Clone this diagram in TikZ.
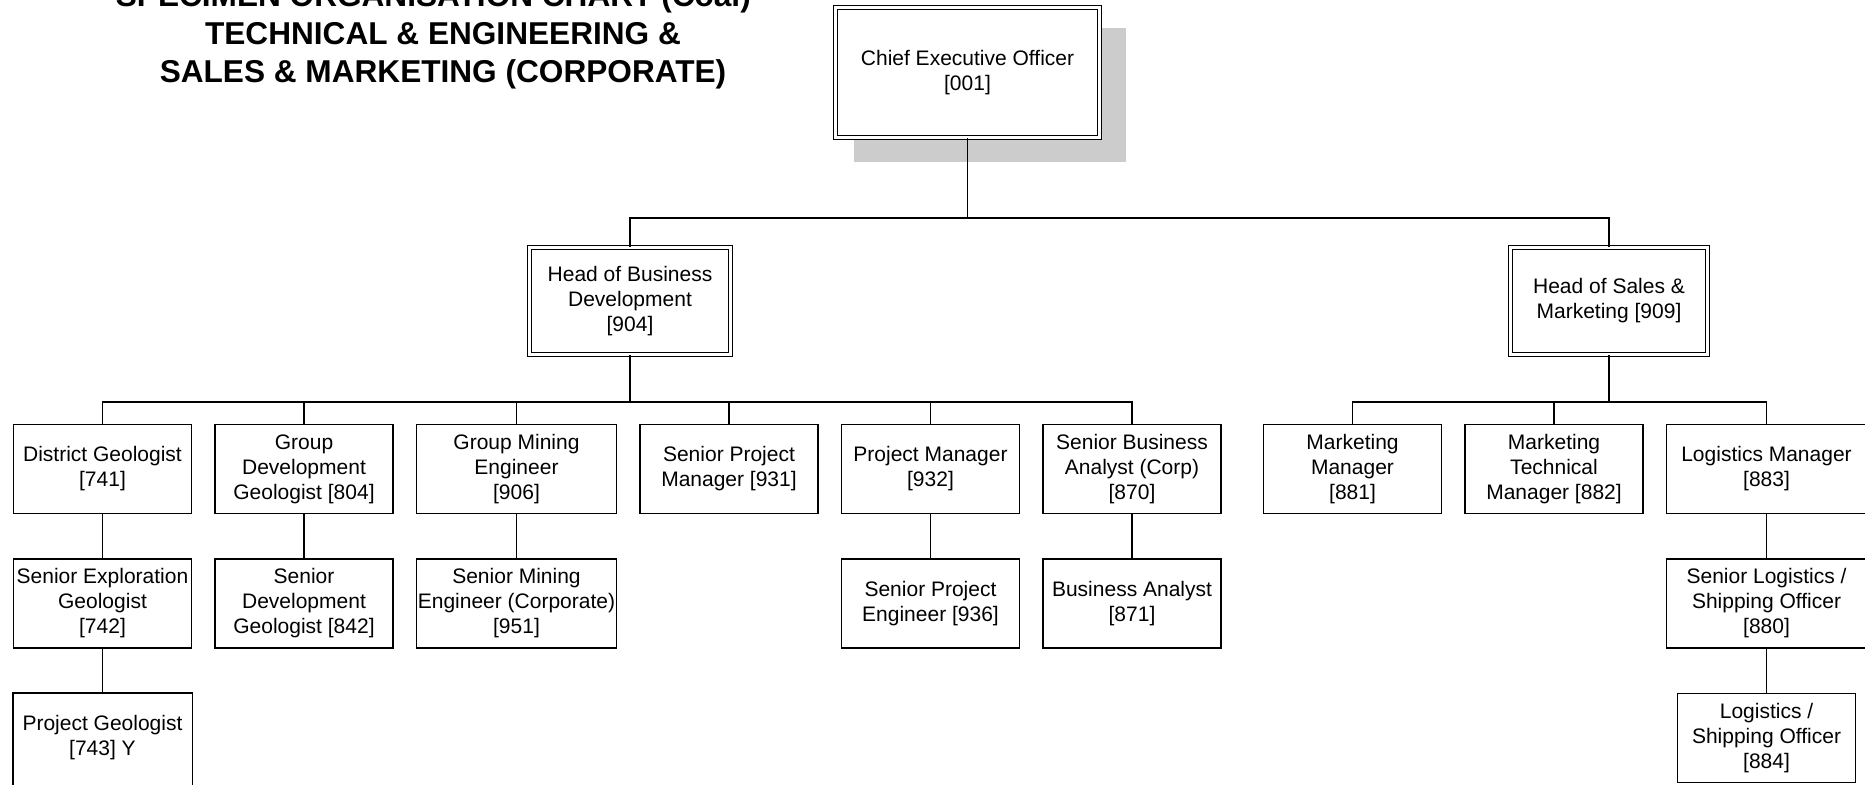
\documentclass[tikz,border=0pt]{standalone}
\usepackage{fontspec}
\setmainfont{Liberation Sans}
\usetikzlibrary{positioning,shadows}

\begin{document}
\begin{tikzpicture}[
x=1pt, y=-1pt,
node distance=44pt and 22pt,
font=\fontsize{21}{25}\selectfont,
post/.style={draw, line width=1.5pt, align=center, inner sep=1pt, minimum width=178pt, minimum height=89pt},
widepost/.style={post, minimum width=200pt},
head/.style={post, double, double distance=2.3pt, fill=white},
link/.style={line width=1.5pt}
]
\useasboundingbox (0,0) rectangle (1865,784);
\node[font=\bfseries\fontsize{31.6}{38}\selectfont, align=center] (title) at (443,36) {SPECIMEN ORGANISATION CHART (Coal) -\\ TECHNICAL \& ENGINEERING \&\\ SALES \& MARKETING (CORPORATE)};

\node[head, minimum width=264pt, minimum height=130pt, drop shadow={shadow xshift=22pt, shadow yshift=-22pt, shadow scale=1.03, fill=black!20, opacity=1, draw=none}] (ceo) at (967.5,72.5) {Chief Executive Officer\\{}[001]};
\node[head, minimum width=201pt, minimum height=107pt] (hbd) at (630,301) {Head of Business\\ Development\\{}[904]};
\node[head, minimum width=197pt, minimum height=107pt] (hsm) at (1609,301) {Head of Sales \&\\ Marketing [909]};

\node[post] (dist) at (102.5,469) {District Geologist\\{}[741]};
\node[post, right=of dist] (gdev) {Group\\ Development\\ Geologist [804]};
\node[widepost, right=of gdev] (gmin) {Group Mining\\ Engineer\\{}[906]};
\node[post, right=of gmin] (spm) {Senior Project\\ Manager [931]};
\node[post, right=of spm] (pm) {Project Manager\\{}[932]};
\node[post, right=of pm] (sba) {Senior Business\\ Analyst (Corp)\\{}[870]};
\node[post] (mm) at (1352.5,469) {Marketing\\ Manager\\{}[881]};
\node[post, right=of mm] (mtm) {Marketing\\ Technical\\ Manager [882]};
\node[widepost, right=of mtm] (lm) {Logistics Manager\\{}[883]};

\node[post, below=of dist] (seg) {Senior Exploration\\ Geologist\\{}[742]};
\node[post, below=of gdev] (sdg) {Senior\\ Development\\ Geologist [842]};
\node[widepost, below=of gmin] (sme) {Senior Mining\\ Engineer (Corporate)\\{}[951]};
\node[post, below=of pm] (spe) {Senior Project\\ Engineer [936]};
\node[post, below=of sba] (ba) {Business Analyst\\{}[871]};
\node[widepost, below=of lm] (slso) {Senior Logistics /\\ Shipping Officer\\{}[880]};

\node[post, draw=none, below=of seg] (pg) {Project Geologist\\{}[743] Y};
\node[post, below=of slso] (lso) {Logistics /\\ Shipping Officer\\{}[884]};
\draw[link] ([yshift=-20pt]pg.south west) |- (pg.north east) -- ([yshift=-20pt]pg.south east);

\coordinate (top) at (967.5,218);
\draw[link] (ceo) -- (top);
\draw[link] (hbd.north) |- (top) -| (hsm.north);
\coordinate (bd) at (630,402);
\draw[link] (hbd) -- (bd);
\foreach \n in {dist,gdev,gmin,spm,pm,sba}
  \draw[link] (bd) -| (\n.north);
\coordinate (sm) at (1609,402);
\draw[link] (hsm) -- (sm);
\foreach \n in {mm,mtm,lm}
  \draw[link] (sm) -| (\n.north);
\foreach \a/\b in {dist/seg,seg/pg,gdev/sdg,gmin/sme,pm/spe,sba/ba,lm/slso,slso/lso}
  \draw[link] (\a) -- (\b);
\end{tikzpicture}
\end{document}
